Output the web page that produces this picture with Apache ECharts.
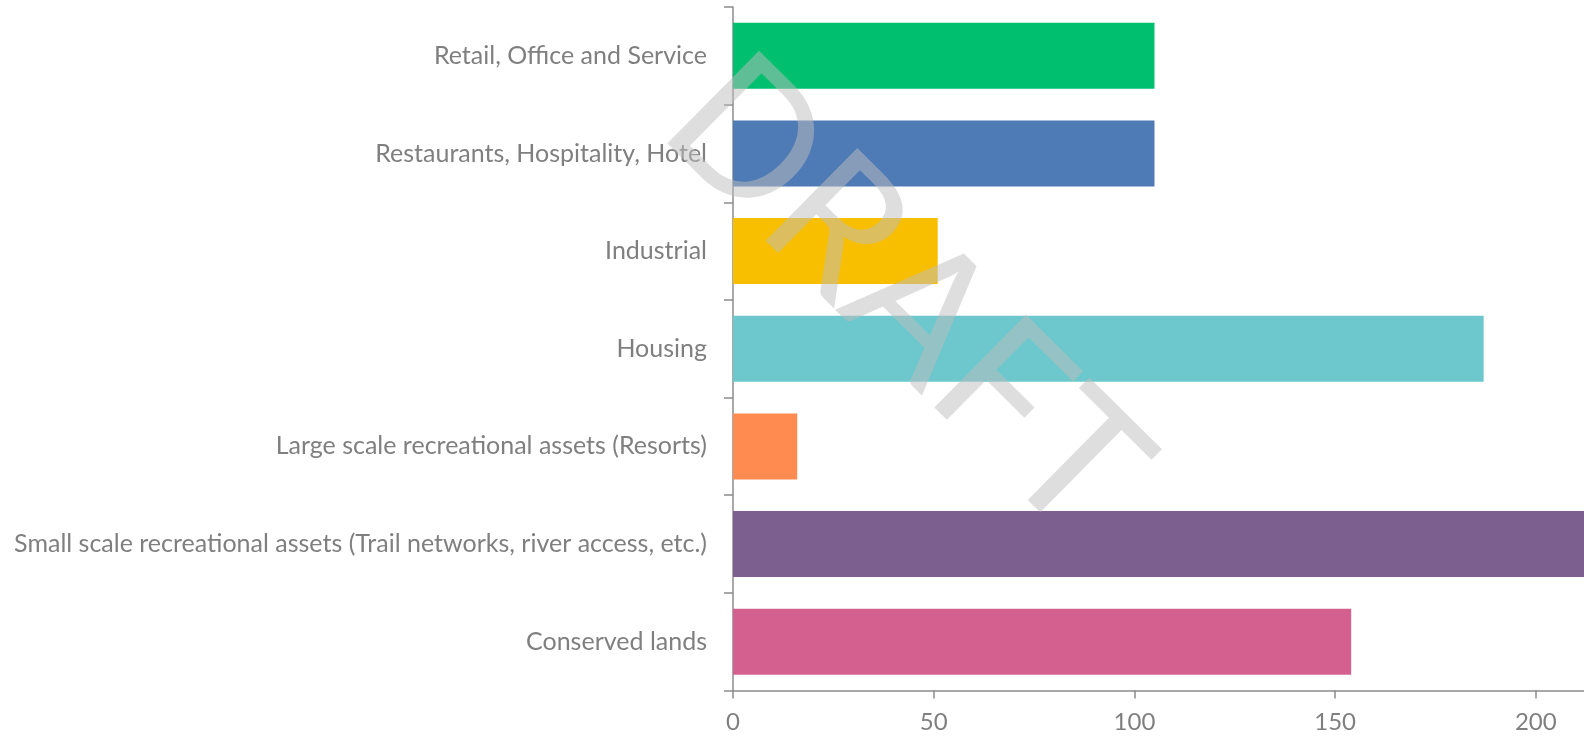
<!DOCTYPE html>
<html>
<head>
<meta charset="utf-8">
<script src="https://cdn.jsdelivr.net/npm/echarts@6/dist/echarts.min.js"></script>
<style>
  html, body { margin: 0; padding: 0; background: #fff; }
  #mychart { width: 1584px; height: 736px; }
</style>
</head>
<body>
<div id="mychart"></div>
<script>
// categories, top to bottom
const categories = [
  'Retail, Office and Service',
  'Restaurants, Hospitality, Hotel',
  'Industrial',
  'Housing',
  'Large scale recreational assets (Resorts)',
  'Small scale recreational assets (Trail networks, river access, etc.)',
  'Conserved lands'
];
// bar values (the purple one runs off the right edge of the picture)
const values = [105, 105, 51, 187, 16, 230, 154];
const barColors = ['#00BF6F', '#4E7AB5', '#F8BF00', '#6CC8CD', '#FF8B50', '#7C5F8E', '#D3608F'];
const xTicks = [0, 50, 100, 150, 200];

const myChart = echarts.init(document.getElementById('mychart'));

const axisGray = '#8c8c8c';
const textGray = '#7f7f7f';
const fontFamily = 'Lato, "Open Sans", sans-serif';

const options = {
  animation: false,
  grid: {
    left: 733,
    right: 0,
    top: 7,
    bottom: 45.5,
    containLabel: false
  },
  xAxis: {
    type: 'value',
    min: xTicks[0],
    max: 212,
    interval: xTicks[1] - xTicks[0],
    splitLine: { show: false },
    axisLine: { show: true, lineStyle: { color: axisGray, width: 1.5 } },
    axisTick: { show: true, length: 8, lineStyle: { color: axisGray, width: 1.5 } },
    axisLabel: {
      color: textGray,
      fontSize: 24,
      fontFamily: fontFamily,
      margin: 20,
      showMaxLabel: false
    }
  },
  yAxis: {
    type: 'category',
    inverse: true,
    data: categories,
    axisLine: { show: true, lineStyle: { color: axisGray, width: 1.5 } },
    axisTick: { show: true, length: 9, lineStyle: { color: axisGray, width: 1.5 } },
    axisLabel: {
      color: textGray,
      fontSize: 25,
      fontFamily: fontFamily,
      margin: 26
    },
    splitLine: { show: false }
  },
  series: [
    {
      type: 'bar',
      barCategoryGap: '32.4%',
      data: values.map((v, i) => ({ value: v, itemStyle: { color: barColors[i] } }))
    }
  ],
  graphic: [
    {
      // DRAFT watermark over the plot
      type: 'text',
      x: 905,
      y: 296,
      rotation: -0.78,
      z: 100,
      silent: true,
      style: {
        text: 'DRAFT',
        fontSize: 182,
        fontFamily: fontFamily,
        fontWeight: 'normal',
        fill: 'rgba(189,189,189,0.5)',
        align: 'center',
        verticalAlign: 'middle'
      }
    }
  ]
};

myChart.setOption(options);
</script>
</body>
</html>
